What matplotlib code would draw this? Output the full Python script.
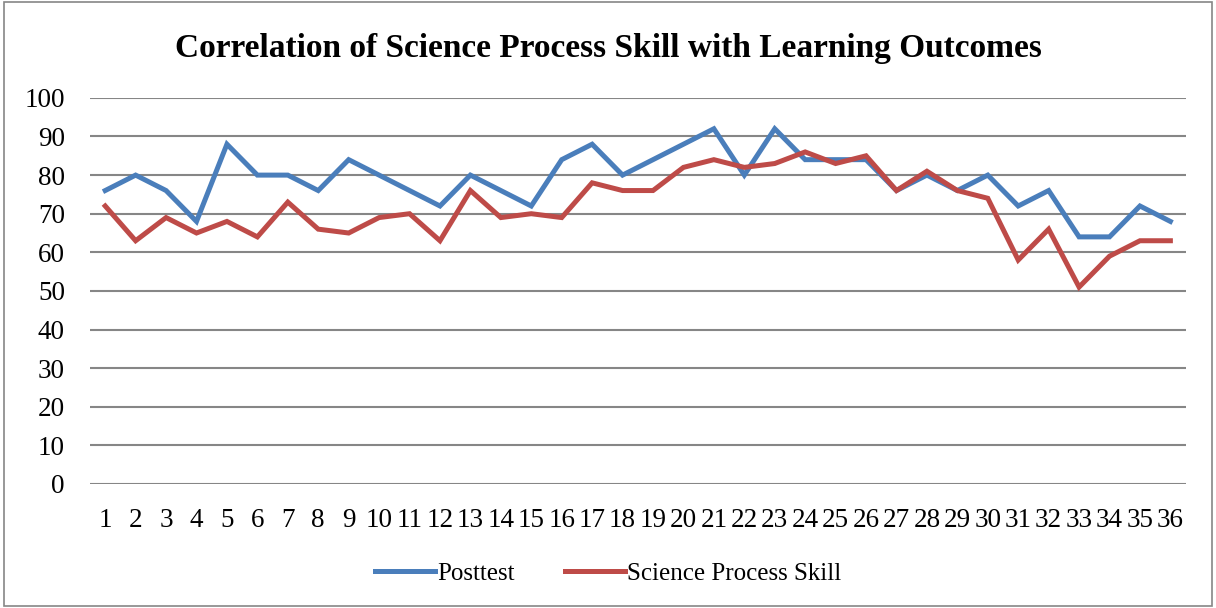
import matplotlib
matplotlib.use("Agg")
import matplotlib.pyplot as plt
from matplotlib.patches import Rectangle

plt.rcParams.update({"font.family": "Liberation Serif"})

BLUE, RED, GRID = "#4a7ebb", "#be4b48", "#868686"

students = list(range(1, 37))
posttest = [76, 80, 76, 68, 88, 80, 80, 76, 84, 80, 76, 72, 80, 76, 72, 84, 88, 80,
            84, 88, 92, 80, 92, 84, 84, 84, 76, 80, 76, 80, 72, 76, 64, 64, 72, 68]
sps = [72, 63, 69, 65, 68, 64, 73, 66, 65, 69, 70, 63, 76, 69, 70, 69, 78, 76,
       76, 82, 84, 82, 83, 86, 83, 85, 76, 81, 76, 74, 58, 66, 51, 59, 63, 63]

fig = plt.figure(figsize=(12.16, 6.08), dpi=100)
ax = fig.add_axes([0.074, 0.204, 0.901, 0.635])

ax.plot(students, posttest, color=BLUE, lw=3.6, label="Posttest", solid_joinstyle="miter")
ax.plot(students, sps, color=RED, lw=3.6, label="Science Process Skill", solid_joinstyle="miter")

ax.set_xlim(0.5, 36.5)
ax.set_ylim(0, 100)
ax.set_yticks(range(0, 101, 10))
ax.set_xticks(students)
ax.set_xticklabels([str(s) for s in students])
ax.tick_params(length=0, labelsize=19.5, pad=17)
ax.tick_params(axis="y", pad=18)
ax.grid(axis="y", color=GRID, lw=1.5)
ax.set_axisbelow(True)
for s in ax.spines.values():
    s.set_visible(False)

fig.suptitle("Correlation of Science Process Skill with Learning Outcomes",
             fontsize=24, fontweight="bold", y=0.945)
fig.legend(loc="center", bbox_to_anchor=(0.5, 0.057), ncol=2, frameon=False,
           fontsize=18, handlelength=2.4, handletextpad=0.1, columnspacing=2.0)
fig.patches.append(Rectangle((0.003, 0.003), 0.994, 0.994, transform=fig.transFigure,
                             fill=False, ec=GRID, lw=1.2))

fig.savefig("out.png", dpi=100)
